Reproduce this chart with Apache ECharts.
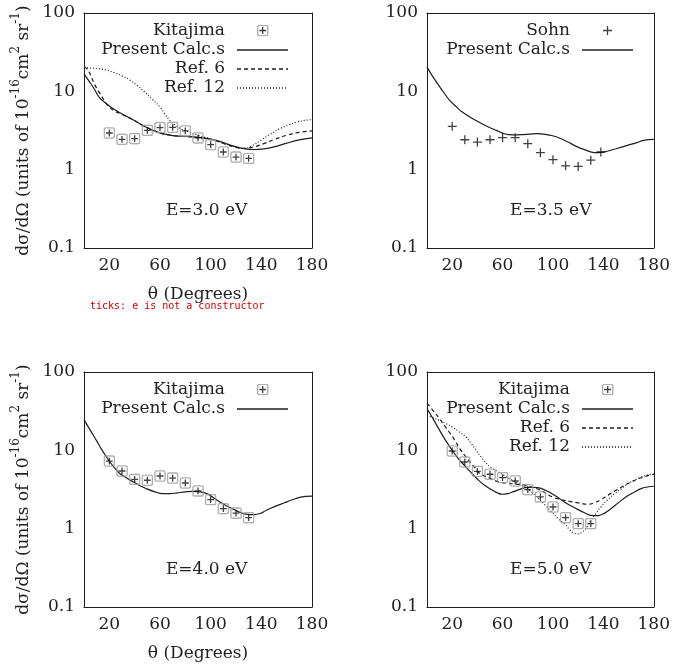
<!DOCTYPE html>
<html><head><meta charset="utf-8">
<script src="https://cdn.jsdelivr.net/npm/echarts@6/dist/echarts.min.js"></script>
<style>html,body{margin:0;padding:0;background:#fff}#c{width:673px;height:671px}#err{position:absolute;left:90px;top:300px;width:560px;font:10px monospace;color:#c00;white-space:pre-wrap}</style>
</head><body><div id="c"></div><div id="err"></div>
<script>
const errs = [];
window.onerror = (m, s, l, c) => { errs.push(m + ' @' + l + ':' + c); showErr(); };
function showErr() { if (errs.length) document.getElementById('err').textContent = errs.join('\n'); }

// ---- tick arrays ----
const xMajorTicks = [20, 60, 100, 140, 180];
const xMinorTicks = [4, 12, 28, 36, 44, 52, 68, 76, 84, 92, 108, 116, 124, 132, 148, 156, 164, 172];
const yMajorTicks = [0.1, 1, 10, 100];
const yMinorTicks = [0.2,0.3,0.4,0.5,0.6,0.7,0.8,0.9, 2,3,4,5,6,7,8,9, 20,30,40,50,60,70,80,90];
const energyLabels = ['E=3.0 eV', 'E=3.5 eV', 'E=4.0 eV', 'E=5.0 eV'];

// ---- experimental angles ----
const kitaTheta = [20, 30, 40, 50, 60, 70, 80, 90, 100, 110, 120, 130];
const sohnTheta = [20, 30, 40, 50, 60, 70, 80, 90, 100, 110, 120, 130, 138];

// ---- Panel 1: E = 3.0 eV ----
const kita30 = [2.94, 2.44, 2.49, 3.18, 3.45, 3.47, 3.12, 2.54, 2.09, 1.68, 1.45, 1.39];
const calc30Theta = [0,4,8,12,18,24,30,38,46,54,62,70,78,86,94,102,110,118,126,134,142,150,160,170,180];
const calc30 = [16.7,13.5,10.8,8.4,6.9,5.85,5.15,4.4,3.7,3.2,2.88,2.72,2.67,2.62,2.55,2.42,2.22,2.0,1.86,1.81,1.84,1.95,2.18,2.4,2.55];
const ref6_30Theta = [0,2,4,6,8,10,12,14,16,18,20,24,30,38,46,54,62,70,78,86,94,102,110,118,126,134,142,150,160,170,180];
const ref6_30 = [20.4,19.6,17.7,15,12.6,11,9.7,8.6,7.6,6.8,6.3,5.6,5.1,4.4,3.72,3.22,2.88,2.72,2.66,2.6,2.52,2.38,2.16,1.96,1.87,1.95,2.15,2.42,2.75,3.0,3.12];
const ref12_30Theta = [0,6,12,18,24,30,36,42,48,54,60,64,68,72,76,82,90,98,106,114,120,126,132,140,147,155,162,168,174,180];
const ref12_30 = [20,19.8,19.4,18.6,17.3,15.8,14,11.9,9.8,7.9,6.3,5.1,4.2,3.7,3.35,3.05,2.75,2.52,2.3,2.07,1.95,1.86,2.0,2.4,2.83,3.35,3.75,4.06,4.25,4.35];

// ---- Panel 2: E = 3.5 eV ----
const sohn35 = [3.57, 2.41, 2.25, 2.41, 2.56, 2.56, 2.15, 1.65, 1.34, 1.12, 1.1, 1.32, 1.68];
const calc35Theta = [0,5,10,13,18,24,28,35,41,48,55,62,68,75,82,88,94,99,106,112,118,125,133,138,143,150,159,166,172,180];
const calc35 = [20.4,15.1,11.5,9.8,7.65,6.2,5.43,4.6,4.05,3.55,3.17,2.85,2.78,2.8,2.85,2.88,2.82,2.73,2.5,2.25,2.0,1.8,1.65,1.66,1.72,1.85,2.04,2.2,2.37,2.43];

// ---- Panel 3: E = 4.0 eV ----
const kita40 = [7.3, 5.45, 4.27, 4.15, 4.7, 4.43, 3.83, 3.03, 2.35, 1.8, 1.58, 1.38];
const calc40Theta = [0,5,10,14,18,23,28,34,39,44,49,56,62,68,73,80,86,92,97,102,107,112,118,123,129,134,139,144,150,158,164,171,180];
const calc40 = [24.7,18,13.2,10.2,8.1,6.3,5.1,4.4,3.94,3.55,3.25,2.95,2.8,2.8,2.85,2.95,3.0,2.95,2.8,2.5,2.2,1.98,1.77,1.62,1.52,1.51,1.56,1.72,1.9,2.13,2.32,2.53,2.6];

// ---- Panel 4: E = 5.0 eV ----
const kita50 = [9.8, 7.1, 5.4, 4.95, 4.49, 4.06, 3.15, 2.54, 1.89, 1.38, 1.16, 1.16];
const calc50Theta = [0,5,10,15,20,25,31,36,41,46,52,56,60,64,68,73,78,83,88,94,99,104,109,115,120,125,130,136,141,146,152,159,164,170,175,180];
const calc50 = [34,25,18,13.2,10,7.8,6.1,5.0,4.14,3.55,3.09,2.85,2.75,2.8,2.94,3.15,3.34,3.38,3.34,3.1,2.8,2.5,2.19,1.93,1.75,1.6,1.48,1.47,1.58,1.8,2.15,2.61,2.9,3.25,3.4,3.48];
const ref6_50Theta = [0,5,10,14,18,22,26,30,34,38,42,50,57,64,71,78,84,89,94,99,104,109,115,120,124,128,133,138,144,151,156,162,167,172,176,180];
const ref6_50 = [40,32,25.4,20.5,16.8,13.5,10.5,8.6,7.1,6.0,5.05,4.4,3.94,3.8,3.7,3.58,3.35,3.15,2.85,2.55,2.4,2.3,2.2,2.13,2.07,2.05,2.15,2.35,2.7,3.15,3.5,3.94,4.3,4.57,4.8,4.94];
const ref12_50Theta = [0,5,10,15,20,25,31,35,39,43,47,51,55,61,67,73,78,83,88,94,99,104,109,113,117,120,123,127,130,134,138,143,149,154,159,164,170,175,180];
const ref12_50 = [28,26,24.2,22,19.9,17.5,14.8,12.3,10,8.2,6.8,6.0,5.5,4.8,4.2,3.75,3.4,2.95,2.45,1.98,1.63,1.35,1.16,0.98,0.87,0.86,0.9,1.05,1.28,1.55,1.89,2.3,2.8,3.2,3.7,4.1,4.57,4.85,4.98];

// ---- styling ----
const F = 'DejaVu Serif';
const INK = '#1e1e1e';
const TXT = '#222';
const svg = s => 'image://data:image/svg+xml;charset=utf-8,' + encodeURIComponent(s);
const boxPlusSym = svg('<svg xmlns="http://www.w3.org/2000/svg" width="12" height="12" viewBox="0 0 12 12"><rect x="0.9" y="0.9" width="10.2" height="10.2" rx="1.8" fill="none" stroke="#9a9a9a" stroke-width="1.4"/><path d="M6 2.6V9.4M2.6 6H9.4" stroke="#111" stroke-width="1.3"/></svg>');
const plusSym = svg('<svg xmlns="http://www.w3.org/2000/svg" width="10" height="10" viewBox="0 0 10 10"><path d="M5 0.5V9.5M0.5 5H9.5" stroke="#111" stroke-width="1.3"/></svg>');
const boxPlusIcon = svg('<svg xmlns="http://www.w3.org/2000/svg" width="51" height="12" viewBox="0 0 51 12"><rect x="20.6" y="0.9" width="10.2" height="10.2" rx="1.8" fill="none" stroke="#9a9a9a" stroke-width="1.4"/><path d="M25.7 2.6V9.4M22.3 6H29.1" stroke="#111" stroke-width="1.3"/></svg>');
const plusIcon = svg('<svg xmlns="http://www.w3.org/2000/svg" width="51" height="12" viewBox="0 0 51 12"><path d="M25.5 1.5V10.5M21 6H30" stroke="#111" stroke-width="1.3"/></svg>');
const lineIcon = dash => svg('<svg xmlns="http://www.w3.org/2000/svg" width="51" height="12" viewBox="0 0 51 12"><path d="M0 6.5H51" stroke="' + INK + '" stroke-width="1.3"' + (dash ? ' stroke-dasharray="' + dash + '"' : '') + '/></svg>');

const grids = [
  {left: 84, top: 13, width: 228, height: 235},
  {left: 427, top: 13, width: 230, height: 235},
  {left: 84, top: 372, width: 228, height: 235},
  {left: 427, top: 372, width: 230, height: 235}
];

const xAxes = [], yAxes = [];
grids.forEach((g, i) => {
  const leftPanel = (i % 2 === 0);
  const base = {gridIndex: i, type: 'value', min: 0, max: 180, splitLine: {show: false}, axisTick: {show: false}};
  xAxes.push(Object.assign({}, base, {
    position: 'bottom',
    axisLine: {show: true, onZero: false, lineStyle: {color: INK, width: 1}},
    axisLabel: {show: true, margin: 9, fontFamily: F, fontSize: 17, color: TXT, customValues: xMajorTicks},
    name: leftPanel ? 'θ (Degrees)' : '', nameLocation: 'middle', nameGap: 38,
    nameTextStyle: {fontFamily: F, fontSize: 17, color: TXT}
  }));
  xAxes.push(Object.assign({}, base, {
    position: 'top',
    axisLine: {show: true, onZero: false, lineStyle: {color: INK, width: 1}},
    axisLabel: {show: false}
  }));
  const logBase = {gridIndex: i, type: 'log', logBase: 10, min: 0.1, max: 100, splitLine: {show: false},
    minorTick: {show: false}, axisTick: {show: false}};
  yAxes.push(Object.assign({}, logBase, {
    position: 'left',
    axisLine: {show: true, onZero: false, lineStyle: {color: INK, width: 1}},
    axisLabel: {show: true, margin: 9, fontFamily: F, fontSize: 17, color: TXT},
    name: leftPanel ? '{a|dσ/dΩ (units of 10}{s|-16}{a|cm}{s|2}{a| sr}{s|-1}{a|)}' : '',
    nameLocation: 'middle', nameGap: 52,
    nameTextStyle: {fontFamily: F, fontSize: 17, color: TXT,
      rich: {a: {fontFamily: F, fontSize: 17, color: TXT, lineHeight: 22, verticalAlign: 'bottom'},
             s: {fontFamily: F, fontSize: 12, color: TXT, lineHeight: 12, verticalAlign: 'top'}}}
  }));
  yAxes.push(Object.assign({}, logBase, {
    position: 'right',
    axisLine: {show: true, onZero: false, lineStyle: {color: INK, width: 1}},
    axisLabel: {show: false}
  }));
});
const XI = p => 2 * p, YI = p => 2 * p;

const zip = (xs, ys) => xs.map((x, k) => [x, ys[k]]);
const lineSeries = (name, p, xs, ys, dash) => ({
  name: name, type: 'line', xAxisIndex: XI(p), yAxisIndex: YI(p),
  data: zip(xs, ys), symbol: 'none', showSymbol: false, smooth: 0.4, z: 2,
  lineStyle: {color: INK, width: 1.2, type: dash || 'solid'}, itemStyle: {color: INK}
});
const scatterSeries = (name, p, xs, ys, sym, size) => ({
  name: name, type: 'scatter', xAxisIndex: XI(p), yAxisIndex: YI(p),
  data: zip(xs, ys), symbol: sym, symbolSize: size, z: 5, itemStyle: {color: '#111'}
});

const series = [
  scatterSeries('Kitajima#0', 0, kitaTheta, kita30, boxPlusSym, 12),
  lineSeries('Present Calc.s#0', 0, calc30Theta, calc30),
  lineSeries('Ref. 6#0', 0, ref6_30Theta, ref6_30, [4, 3]),
  lineSeries('Ref. 12#0', 0, ref12_30Theta, ref12_30, [1, 2]),
  scatterSeries('Sohn#1', 1, sohnTheta, sohn35, plusSym, 10),
  lineSeries('Present Calc.s#1', 1, calc35Theta, calc35),
  scatterSeries('Kitajima#2', 2, kitaTheta, kita40, boxPlusSym, 12),
  lineSeries('Present Calc.s#2', 2, calc40Theta, calc40),
  scatterSeries('Kitajima#3', 3, kitaTheta, kita50, boxPlusSym, 12),
  lineSeries('Present Calc.s#3', 3, calc50Theta, calc50),
  lineSeries('Ref. 6#3', 3, ref6_50Theta, ref6_50, [4, 3]),
  lineSeries('Ref. 12#3', 3, ref12_50Theta, ref12_50, [1, 2])
];

const legendBase = {
  orient: 'vertical', align: 'right', itemWidth: 51, itemHeight: 12, itemGap: 0, padding: 0,
  selectedMode: false,
  textStyle: {fontFamily: F, fontSize: 17, color: TXT, lineHeight: 19, padding: [0, 7, 0, 0]},
  formatter: n => n.split('#')[0]
};
const legendItems = [
  [['Kitajima#0', boxPlusIcon], ['Present Calc.s#0', lineIcon('')], ['Ref. 6#0', lineIcon('4 3')], ['Ref. 12#0', lineIcon('1 2')]],
  [['Sohn#1', plusIcon], ['Present Calc.s#1', lineIcon('')]],
  [['Kitajima#2', boxPlusIcon], ['Present Calc.s#2', lineIcon('')]],
  [['Kitajima#3', boxPlusIcon], ['Present Calc.s#3', lineIcon('')], ['Ref. 6#3', lineIcon('4 3')], ['Ref. 12#3', lineIcon('1 2')]]
];
const legends = legendItems.map((items, i) => Object.assign({}, legendBase, {
  right: 673 - (grids[i].left + grids[i].width) + 24,
  top: grids[i].top + 8,
  data: items.map(([n, ic]) => ({name: n, icon: ic}))
}));

const labelGraphics = energyLabels.map((t, i) => ({
  type: 'text', id: 'elabel' + i,
  x: grids[i].left + grids[i].width * 0.538,
  y: grids[i].top + grids[i].height * 0.839,
  style: {text: t, fontFamily: F, fontSize: 17, fill: TXT, align: 'center', verticalAlign: 'middle'}
}));

const chart = echarts.init(document.getElementById('c'), null, {renderer: 'canvas'});
try {
  chart.setOption({
    animation: false,
    backgroundColor: '#fff',
    grid: grids,
    xAxis: xAxes,
    yAxis: yAxes,
    legend: legends,
    graphic: labelGraphics,
    series: series
  });
} catch (e) { errs.push('setOption: ' + e.message); }

// gnuplot-style mirrored inward ticks, positioned through each panel's own axes
try {
  const tickPaths = grids.map((g, p) => {
    const finder = {xAxisIndex: XI(p), yAxisIndex: YI(p)};
    const l = g.left, r = g.left + g.width, t = g.top, b = g.top + g.height;
    let d = '';
    const xt = (v, L) => {
      const px = Math.round(chart.convertToPixel(finder, [v, 1])[0]) + 0.5;
      d += 'M' + px + ' ' + b + 'V' + (b - L) + 'M' + px + ' ' + t + 'V' + (t + L);
    };
    const yt = (v, L) => {
      const py = Math.round(chart.convertToPixel(finder, [90, v])[1]) + 0.5;
      d += 'M' + l + ' ' + py + 'H' + (l + L) + 'M' + r + ' ' + py + 'H' + (r - L);
    };
    xMajorTicks.forEach(v => xt(v, 8));
    xMinorTicks.forEach(v => xt(v, 4));
    yMajorTicks.forEach(v => yt(v, 8));
    yMinorTicks.forEach(v => yt(v, 4));
    return {type: 'path', id: 'ticks' + p, shape: {pathData: d}, style: {stroke: INK, lineWidth: 1, fill: null}, z: 10, silent: true};
  });
  chart.setOption({graphic: tickPaths});
} catch (e) { errs.push('ticks: ' + e.message); }
showErr();
</script>
</body></html>
